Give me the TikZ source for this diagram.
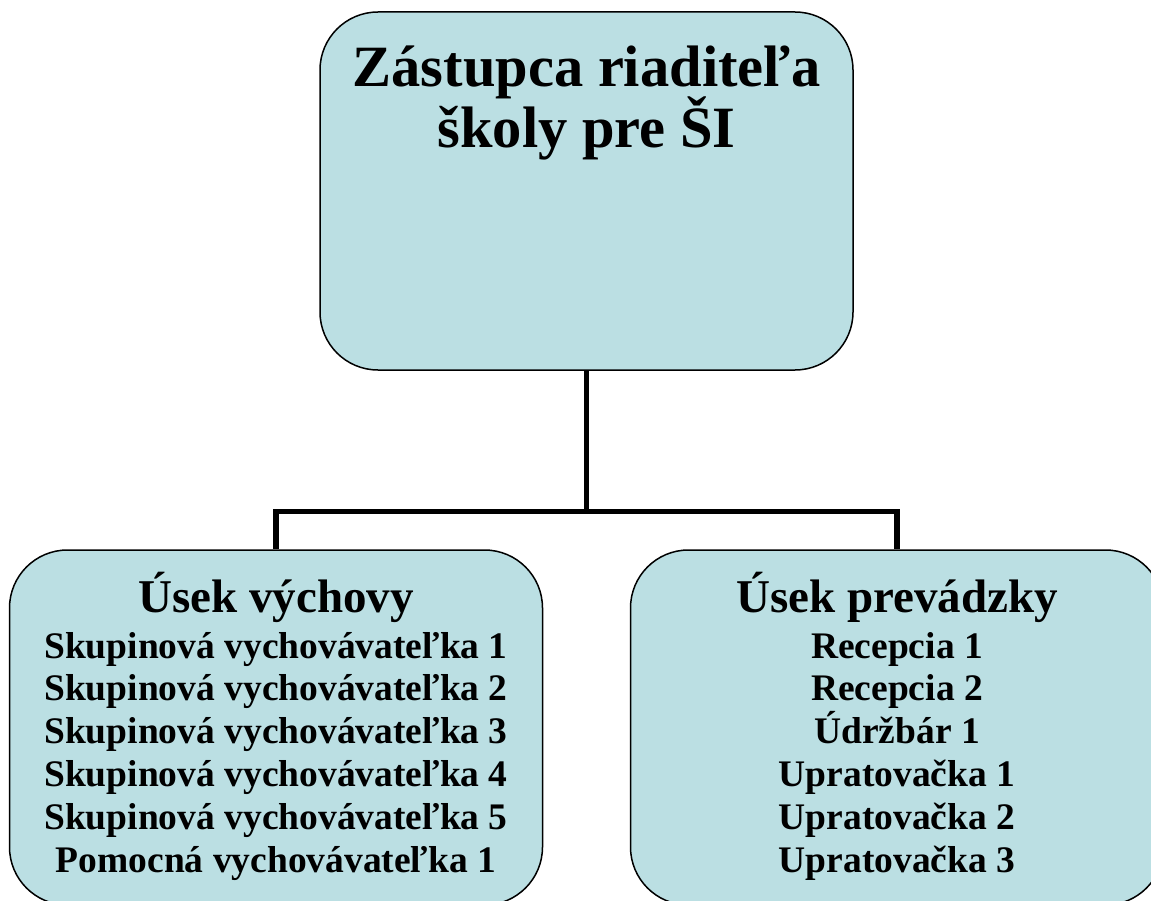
\documentclass[tikz,border=0pt]{standalone}
\usepackage{fontspec}
\setmainfont{Liberation Serif}
\usepackage{tikz}
\usetikzlibrary{positioning}
\definecolor{boxfill}{RGB}{187,223,227}
\tikzset{
  unitbox/.style={draw=black, line width=1.5pt, fill=boxfill, rounded corners=58pt,
    minimum width=533pt, minimum height=355pt, inner sep=0pt},
  conn/.style={line width=5.5pt},
  titletext/.style={font=\bfseries\fontsize{58.5}{62}\selectfont, anchor=base, inner sep=0pt},
  headtext/.style={font=\bfseries\fontsize{47}{50}\selectfont, anchor=base, inner sep=0pt},
  itemtext/.style={font=\bfseries\fontsize{37.5}{40}\selectfont, anchor=base, inner sep=0pt},
}

\begin{document}
\begin{tikzpicture}[x=1pt,y=-1pt]
\useasboundingbox (0,0) rectangle (1151,901);
\clip (0,0) rectangle (1151,901);
% boxes
\node[unitbox, minimum height=358pt] (zast) at (586.5,191) {};
\node[unitbox] (vych) at (276,727.5) {};
\node[unitbox] (prev) at (897,727.5) {};
% connectors
\coordinate (split) at (586.5,511.5);
\draw[conn] (zast.south) -- (split);
\draw[conn] (split) -| (vych.north);
\draw[conn] (split) -| (prev.north);
% top
\node[titletext] (zast1) at (586.5,87) {Zástupca riaditeľa};
\node[titletext] (zast2) at (586.5,148) {školy pre ŠI};
% left
\node[headtext] (vychhead) at (276,612) {Úsek výchovy};
\foreach \txt [count=\i] in {Skupinová vychovávateľka 1, Skupinová vychovávateľka 2,
    Skupinová vychovávateľka 3, Skupinová vychovávateľka 4,
    Skupinová vychovávateľka 5, Pomocná vychovávateľka 1}
  \node[itemtext] (vych\i) at (276,{615.2+42.8*\i}) {\txt};
% right
\node[headtext] (prevhead) at (897,612) {Úsek prevádzky};
\foreach \txt [count=\i] in {Recepcia 1, Recepcia 2, Údržbár 1,
    Upratovačka 1, Upratovačka 2, Upratovačka 3}
  \node[itemtext] (prev\i) at (897,{615.2+42.8*\i}) {\txt};
\end{tikzpicture}
\end{document}
